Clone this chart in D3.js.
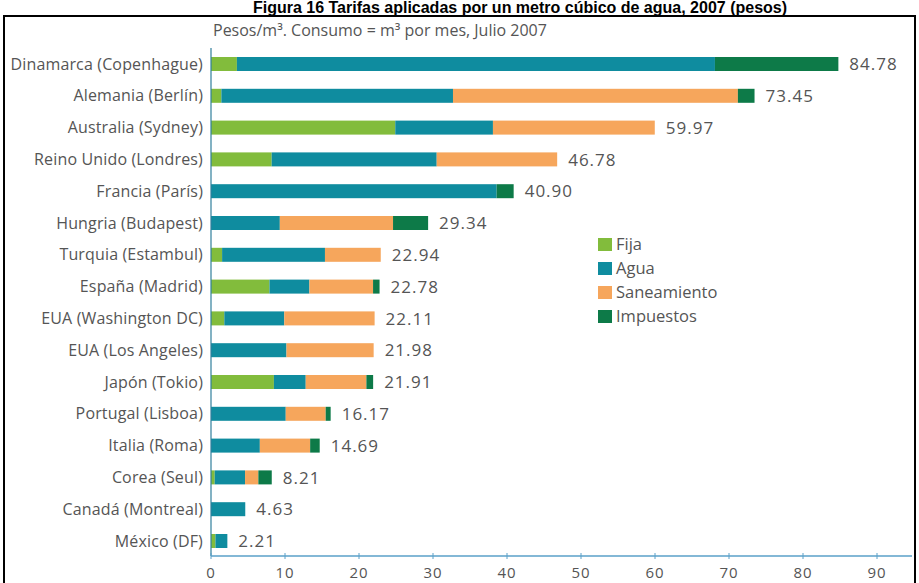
<!DOCTYPE html>
<html>
<head>
<meta charset="utf-8">
<script src="https://cdn.jsdelivr.net/npm/d3@7"></script>
<style>
  html, body { margin: 0; padding: 0; background: #fff; }
  svg { display: block; }
  .lbl { font-family: "Open Sans", "Noto Sans", sans-serif; fill: #555; }
</style>
</head>
<body>
<svg id="chart" width="919" height="583"></svg>
<script>
// Cities, ordered from highest to lowest total tariff
const categories = [
  "Dinamarca (Copenhague)", "Alemania (Berlín)", "Australia (Sydney)", "Reino Unido (Londres)",
  "Francia (París)", "Hungria (Budapest)", "Turquia (Estambul)", "España (Madrid)",
  "EUA (Washington DC)", "EUA (Los Angeles)", "Japón (Tokio)", "Portugal (Lisboa)",
  "Italia (Roma)", "Corea (Seul)", "Canadá (Montreal)", "México (DF)"
];
// Components of the tariff (pesos per m³)
const fija        = [3.5, 1.4, 24.9, 8.2, 0, 0, 1.5, 7.9, 1.8, 0, 8.5, 0, 0, 0.5, 0, 0.6];
const agua        = [64.6, 31.3, 13.2, 22.3, 38.6, 9.3, 13.9, 5.4, 8.1, 10.2, 4.3, 10.1, 6.6, 4.1, 4.63, 1.61];
const saneamiento = [0, 38.5, 21.87, 16.28, 0, 15.3, 7.54, 8.6, 12.21, 11.78, 8.2, 5.4, 6.8, 1.8, 0, 0];
const impuestos   = [16.68, 2.25, 0, 0, 2.3, 4.74, 0, 0.88, 0, 0, 0.91, 0.67, 1.29, 1.81, 0, 0];
const totals      = [84.78, 73.45, 59.97, 46.78, 40.90, 29.34, 22.94, 22.78, 22.11, 21.98, 21.91, 16.17, 14.69, 8.21, 4.63, 2.21];
const seriesNames = ["Fija", "Agua", "Saneamiento", "Impuestos"];
const tickValues  = [0, 10, 20, 30, 40, 50, 60, 70, 80, 90];

const colors = ["#82bc3c", "#0f8c9f", "#f6a65c", "#0d7a48"];
const seriesValues = [fija, agua, saneamiento, impuestos];

const svg = d3.select("#chart");

// Table for the stack layout
const rows = categories.map((c, i) => {
  const r = { city: c };
  seriesNames.forEach((s, k) => r[s] = seriesValues[k][i]);
  return r;
});
const stacked = d3.stack().keys(seriesNames)(rows);

const x = d3.scaleLinear().domain([0, 94]).range([211, 906.6]);
const y = d3.scalePoint().domain(categories).range([64, 541]);
const barH = 14;

// Outer frame and title
svg.append("rect")
  .attr("x", 4).attr("y", 16).attr("width", 911).attr("height", 580)
  .attr("fill", "none").attr("stroke", "#000").attr("stroke-width", 2);

svg.append("text")
  .attr("x", 520).attr("y", 13)
  .attr("text-anchor", "middle")
  .style("font-family", "'Liberation Sans', Arial, sans-serif")
  .style("font-weight", "bold").style("font-size", "16px").style("fill", "#000")
  .text("Figura 16 Tarifas aplicadas por un metro cúbico de agua, 2007 (pesos)");

svg.append("text").attr("class", "lbl")
  .attr("x", 213).attr("y", 36)
  .style("font-size", "16px")
  .text("Pesos/m³. Consumo = m³ por mes, Julio 2007");

// Stacked bars
svg.append("g").selectAll("g")
  .data(stacked).join("g")
  .attr("fill", (d, k) => colors[k])
  .selectAll("rect")
  .data(d => d).join("rect")
  .attr("x", d => x(d[0]))
  .attr("y", d => y(d.data.city) - barH / 2)
  .attr("width", d => Math.max(0, x(d[1]) - x(d[0])))
  .attr("height", barH);

// City labels
svg.append("g").selectAll("text")
  .data(categories).join("text")
  .attr("class", "lbl")
  .attr("x", 203)
  .attr("y", d => y(d))
  .attr("dy", "0.35em")
  .attr("text-anchor", "end")
  .style("font-size", "16px")
  .style("letter-spacing", "0.15px")
  .text(d => d);

// Total labels
svg.append("g").selectAll("text")
  .data(totals).join("text")
  .attr("class", "lbl")
  .attr("x", d => x(d) + 11)
  .attr("y", (d, i) => y(categories[i]))
  .attr("dy", "0.36em")
  .style("font-size", "17px")
  .style("letter-spacing", "1px")
  .text(d => d.toFixed(2));

// Vertical baseline
svg.append("line")
  .attr("x1", x(0)).attr("x2", x(0))
  .attr("y1", 48).attr("y2", 556)
  .attr("stroke", "#2f7f9c").attr("stroke-width", 1.2);

// Horizontal value axis
const axisG = svg.append("g").attr("transform", "translate(0,556)");
axisG.append("line")
  .attr("x1", x(0)).attr("x2", 912)
  .attr("stroke", "#5aa0c8").attr("stroke-width", 1.5);
axisG.selectAll("line.tick")
  .data(tickValues).join("line")
  .attr("class", "tick")
  .attr("x1", d => x(d)).attr("x2", d => x(d))
  .attr("y1", -3).attr("y2", 3)
  .attr("stroke", "#5aa0c8").attr("stroke-width", 1);
axisG.selectAll("text")
  .data(tickValues).join("text")
  .attr("class", "lbl")
  .attr("x", d => x(d))
  .attr("y", 22)
  .attr("text-anchor", "middle")
  .style("font-size", "15px")
  .style("letter-spacing", "1px")
  .text(d => d);

// Legend
const legend = svg.append("g").attr("transform", "translate(598,238)");
const lg = legend.selectAll("g").data(seriesNames).join("g")
  .attr("transform", (d, k) => `translate(0,${k * 24})`);
lg.append("rect").attr("width", 14).attr("height", 13).attr("fill", (d, k) => colors[k]);
lg.append("text").attr("class", "lbl")
  .attr("x", 18).attr("y", 6.5).attr("dy", "0.36em")
  .style("font-size", "16.5px")
  .text(d => d);
</script>
</body>
</html>
